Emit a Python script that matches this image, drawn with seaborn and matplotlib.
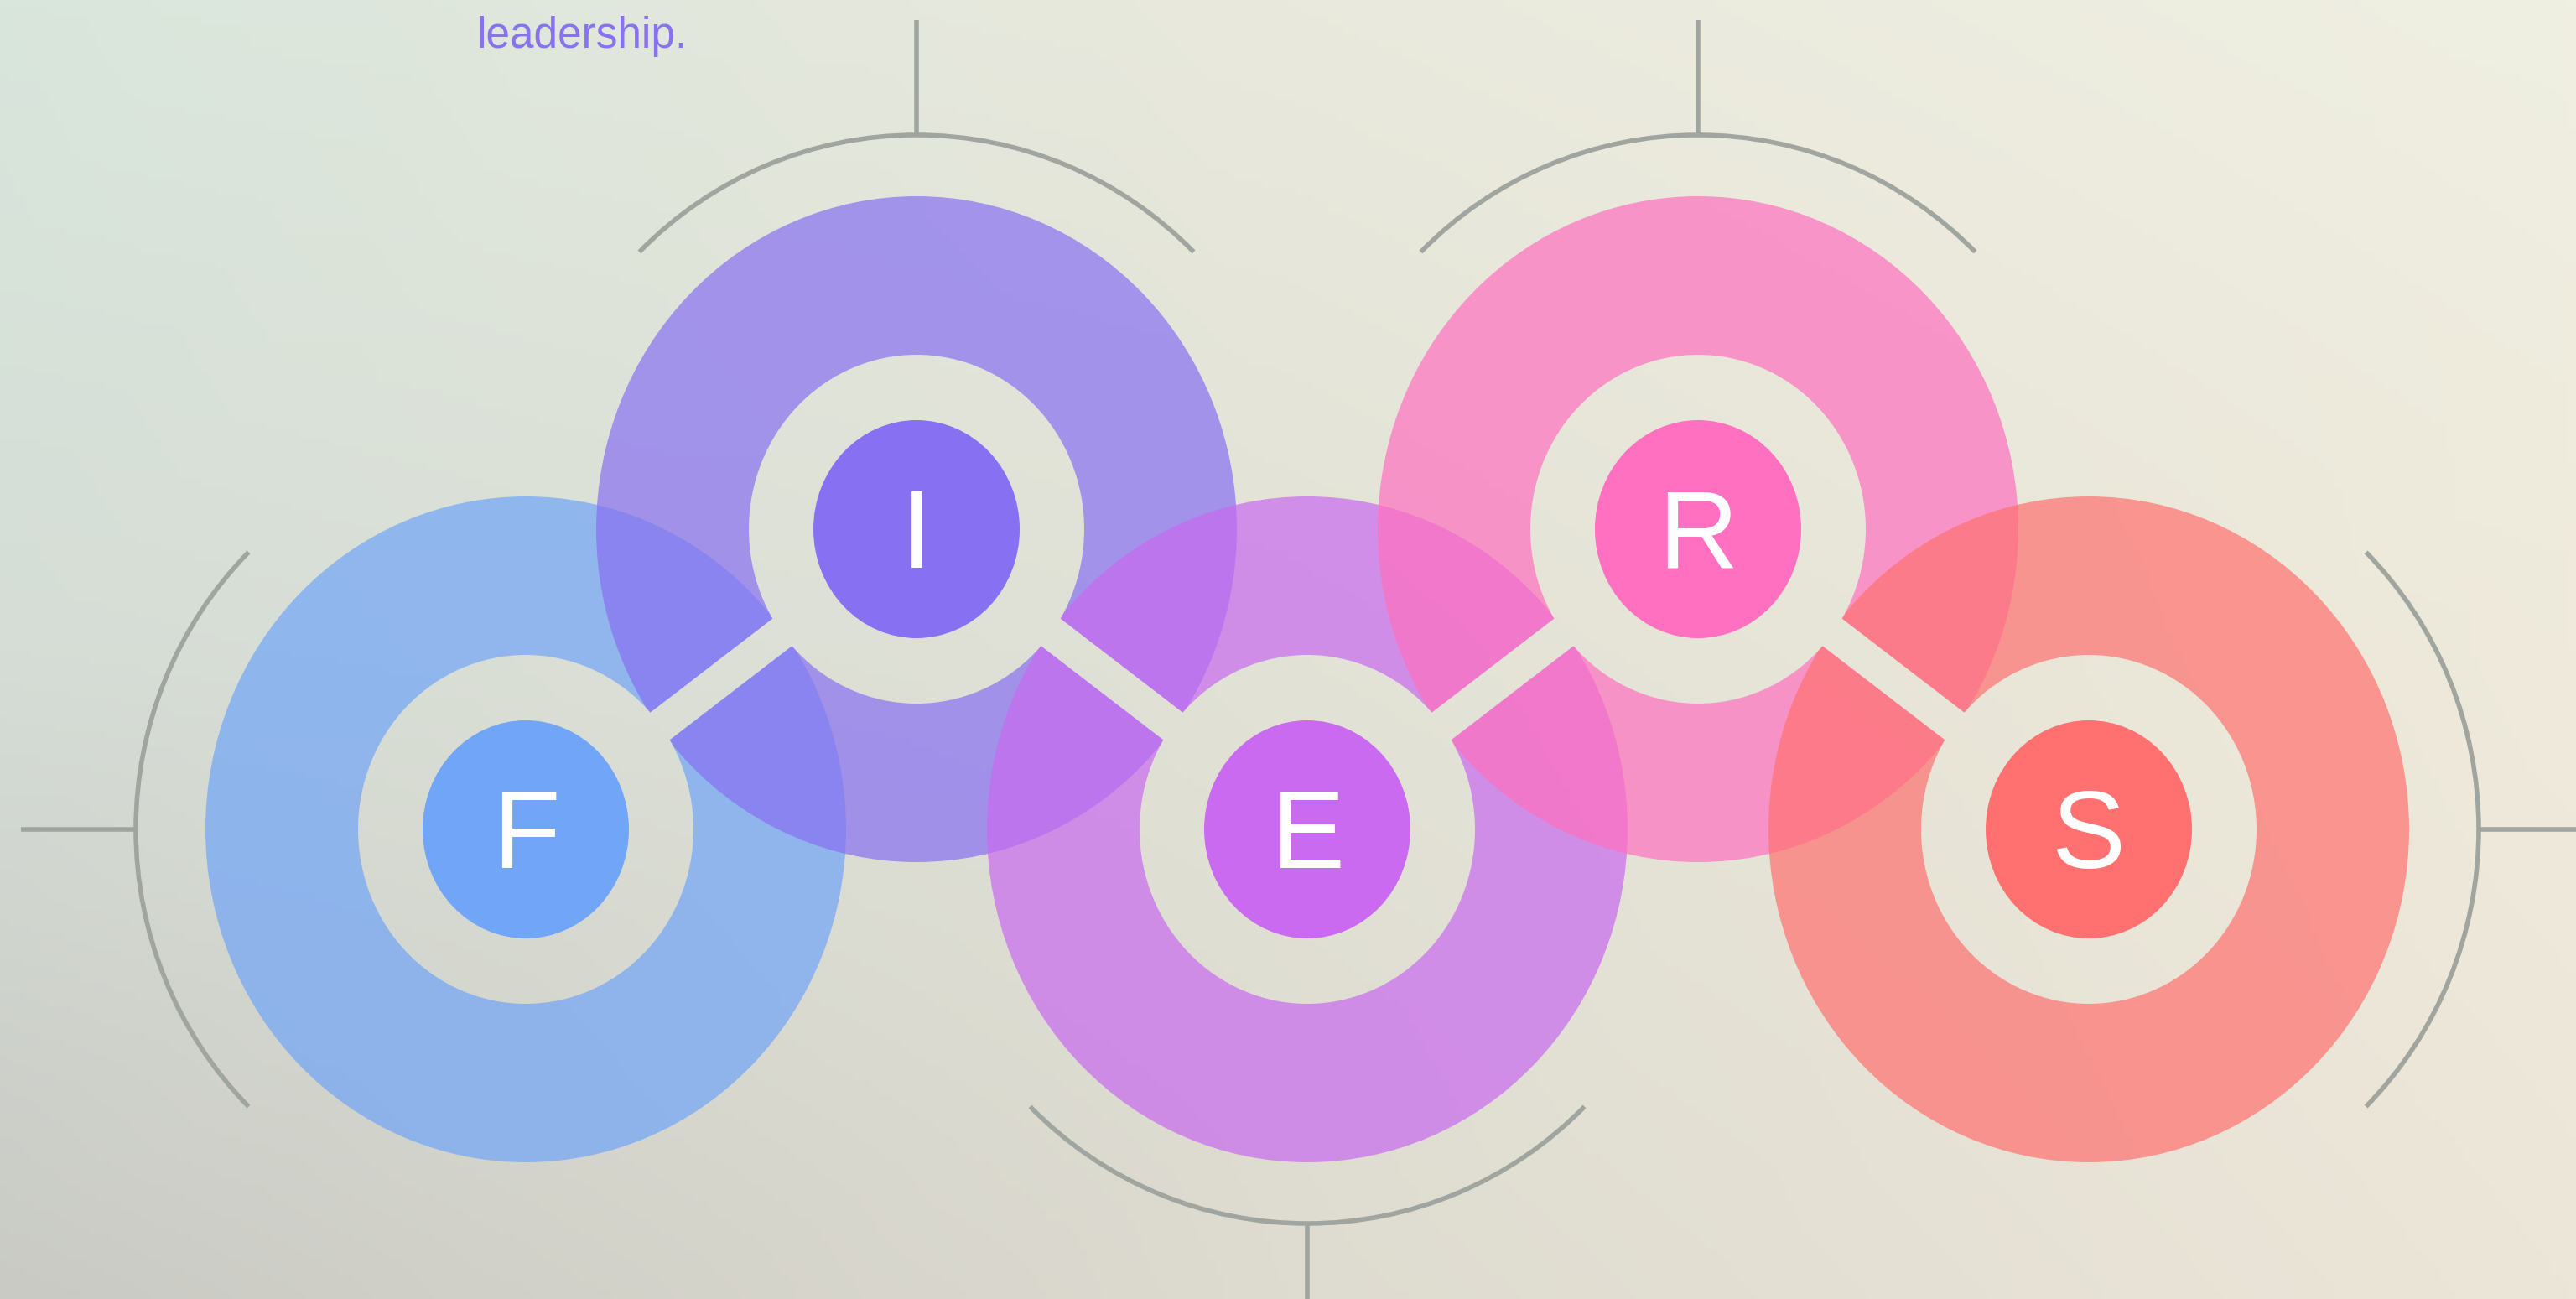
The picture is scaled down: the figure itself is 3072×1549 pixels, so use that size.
import matplotlib
matplotlib.use("Agg")
import matplotlib.pyplot as plt
from matplotlib.patches import Ellipse, Arc, Polygon
import numpy as np
import seaborn as sns

# step data
letters = ["F", "I", "E", "R", "S"]
levels = [0, 1, 0, 1, 0]          # 0 = lower row, 1 = upper row
arc_side = ["left", "up", "down", "up", "right"]
inner_colors = ["#71a5f8", "#8870f2", "#c96af0", "#ff70c0", "#ff7170"]
caption = "leadership."

# layout (pixel units, y up)
W, H = 3072, 1549
X0, DX = 627, 466
ROW_Y = {0: 560, 1: 918}
BIG = (764, 794)
RING = (400, 416)
INNER = (246, 260)
ARC = (930, 940)
BAND = 20
STUB = 137
GRAY = "#a0a59f"

sns.set_theme(style="white")
plt.rcParams["font.family"] = ["Liberation Sans", "DejaVu Sans"]

# background gradient built from a 3x3 grid of colours (bottom row first)
grid = [["#c9cac4", "#dedbd0", "#ece6d8"],
        ["#d5ddd6", "#e2e2d6", "#efeadb"],
        ["#d9e6dc", "#eae9dd", "#efefe2"]]
g = np.array([[matplotlib.colors.to_rgb(c) for c in row] for row in grid])
ny, nx = 160, 320
ys = np.linspace(0, 2, ny)
xs = np.linspace(0, 2, nx)
rows = np.zeros((3, nx, 3))
for r in range(3):
    for k in range(3):
        rows[r, :, k] = np.interp(xs, [0, 1, 2], g[r, :, k])
bg = np.zeros((ny, nx, 3))
for k in range(3):
    for j in range(nx):
        bg[:, j, k] = np.interp(ys, [0, 1, 2], rows[:, j, k])

fig = plt.figure(figsize=(W / 100, H / 100), dpi=100)
ax = fig.add_axes([0, 0, 1, 1])
ax.set_xlim(0, W)
ax.set_ylim(0, H)
ax.axis("off")

ax.imshow(bg, extent=(0, W, 0, H), origin="lower", aspect="auto", zorder=0)

cx = [X0 + DX * i for i in range(len(letters))]
cy = [ROW_Y[lv] for lv in levels]

# big translucent discs
for x, y, c in zip(cx, cy, inner_colors):
    ax.add_patch(Ellipse((x, y), *BIG, facecolor=c, alpha=0.7,
                         edgecolor="none", zorder=1))


def bg_clip(patch):
    im = ax.imshow(bg, extent=(0, W, 0, H), origin="lower", aspect="auto",
                   zorder=2)
    im.set_clip_path(patch)


# connector bands between consecutive steps
for i in range(len(letters) - 1):
    p0 = np.array([cx[i], cy[i]], float)
    p1 = np.array([cx[i + 1], cy[i + 1]], float)
    d = (p1 - p0) / np.linalg.norm(p1 - p0)
    n = np.array([-d[1], d[0]]) * BAND
    band = Polygon([p0 + n, p1 + n, p1 - n, p0 - n], closed=True,
                   transform=ax.transData)
    bg_clip(band)

# rings
for x, y in zip(cx, cy):
    bg_clip(Ellipse((x, y), *RING, transform=ax.transData))

# inner discs and letters
for x, y, c, t in zip(cx, cy, inner_colors, letters):
    ax.add_patch(Ellipse((x, y), *INNER, facecolor=c, edgecolor="none",
                         zorder=3))
    ax.text(x, y - 46, t, color="white", fontsize=95, ha="center",
            va="baseline", zorder=4)

# outer arcs with stubs
spans = {"up": (45, 135), "down": (225, 315),
         "left": (135, 225), "right": (-45, 45)}
for x, y, side in zip(cx, cy, arc_side):
    t1, t2 = spans[side]
    ax.add_patch(Arc((x, y), *ARC, theta1=t1, theta2=t2, color=GRAY,
                     lw=4, zorder=1.5))
    if side == "up":
        a = (x, y + ARC[1] / 2)
        b = (x, a[1] + STUB)
    elif side == "down":
        a = (x, y - ARC[1] / 2)
        b = (x, a[1] - STUB)
    elif side == "left":
        a = (x - ARC[0] / 2, y)
        b = (a[0] - STUB, y)
    else:
        a = (x + ARC[0] / 2, y)
        b = (a[0] + STUB, y)
    ax.plot([a[0], b[0]], [a[1], b[1]], color=GRAY, lw=4,
            solid_capstyle="butt", zorder=1.5)

ax.text(568, H - 57, caption, color="#8872ee", fontsize=37, ha="left",
        va="baseline", zorder=4)

fig.savefig("out.png", dpi=100)
